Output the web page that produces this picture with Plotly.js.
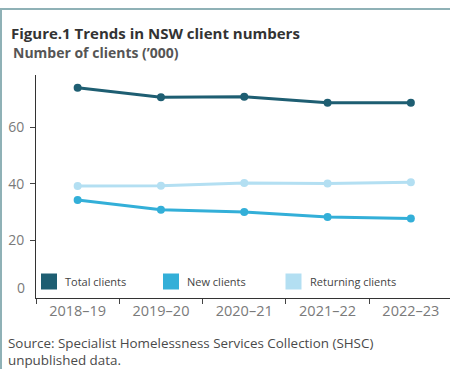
<!DOCTYPE html>
<html>
<head>
<meta charset="utf-8">
<script src="https://cdn.plot.ly/plotly-3.0.1.min.js"></script>
<style>
  html, body { margin: 0; padding: 0; background: #ffffff; }
  #wrap { position: relative; width: 450px; height: 369px; overflow: hidden; }
  #frame { position: absolute; left: 0; top: 8px; width: 448px; height: 361px;
           border-top: 2px solid #8fb1b6; border-left: 2px solid #8fb1b6; }
  #chart { position: absolute; left: 0; top: 0; width: 450px; height: 369px; }
</style>
</head>
<body>
<div id="wrap">
  <div id="frame"></div>
  <div id="chart"></div>
</div>
<script>
// ---- data ----
const years = ['2018–19', '2019–20', '2020–21', '2021–22', '2022–23'];
const totalClients = [74.1, 70.7, 70.9, 68.8, 68.8];
const newClients = [34.3, 30.9, 30.1, 28.3, 27.8];
const returningClients = [39.3, 39.4, 40.3, 40.2, 40.6];
const seriesNames = ['Total clients', 'New clients', 'Returning clients'];
const seriesColors = ['#1e5e72', '#33afd8', '#b3dff2'];
const yTicks = [20, 40, 60];

const titleText = 'Figure.1 Trends in NSW client numbers';
const subtitleText = 'Number of clients (’000)';
const sourceLines = ['Source: Specialist Homelessness Services Collection (SHSC)', 'unpublished data.'];

const FONT = 'Open Sans, Noto Sans, sans-serif';

const seriesValues = [totalClients, newClients, returningClients];
const traces = seriesValues.map((vals, i) => ({
  type: 'scatter',
  mode: 'lines+markers',
  x: years,
  y: vals,
  name: seriesNames[i],
  line: { color: seriesColors[i], width: 3 },
  marker: { color: seriesColors[i], size: 8 },
  showlegend: false,
  hoverinfo: 'x+y+name'
}));

// plot area geometry (px)
const W = 450, H = 369, ML = 36, MR = 0, MT = 75, MB = 71;
const PW = W - ML - MR, PH = H - MT - MB;
const px2x = p => (p - ML) / PW;
const py2y = p => (H - MB - p) / PH;

// legend (squares + labels)
const legendX = [41, 163, 285.5];
const legendTop = 273.5, legendSize = 16;
const shapes = [];
const annotations = [];
seriesNames.forEach((n, i) => {
  shapes.push({
    type: 'rect', xref: 'paper', yref: 'paper',
    x0: px2x(legendX[i]), x1: px2x(legendX[i] + legendSize),
    y0: py2y(legendTop + legendSize), y1: py2y(legendTop),
    fillcolor: seriesColors[i], line: { width: 0 }
  });
  annotations.push({
    xref: 'paper', yref: 'paper',
    x: px2x(legendX[i] + legendSize + 6), y: py2y(legendTop + legendSize / 2),
    xanchor: 'left', yanchor: 'middle', showarrow: false,
    text: n, font: { family: FONT, size: 11, color: '#444444' }
  });
});

// subtitle
annotations.push({
  xref: 'paper', yref: 'paper', x: px2x(11), y: py2y(52.5), xanchor: 'left', yanchor: 'middle',
  showarrow: false, text: '<b>' + subtitleText + '</b>',
  font: { family: FONT, size: 14, color: '#555555' }
});
// "0" label (raised as in the reference)
annotations.push({
  xref: 'paper', yref: 'y', x: 0, y: 0, xanchor: 'right', yanchor: 'middle',
  xshift: -9, yshift: 9, showarrow: false, text: '0',
  font: { family: FONT, size: 14, color: '#7a7a7a' }
});
// source note
annotations.push({
  xref: 'paper', yref: 'paper', x: px2x(6), y: py2y(331.5), xanchor: 'left', yanchor: 'top',
  align: 'left', showarrow: false, text: sourceLines.join('<br>'),
  font: { family: FONT, size: 13.4, color: '#4a4a4a' }
});

const layout = {
  width: W, height: H,
  margin: { l: ML, r: MR, t: MT, b: MB, pad: 0 },
  paper_bgcolor: 'rgba(0,0,0,0)',
  plot_bgcolor: 'rgba(0,0,0,0)',
  title: {
    text: '<b>' + titleText + '</b>',
    xref: 'container', yref: 'container',
    x: 11 / W, xanchor: 'left',
    y: 1 - 39 / H, yanchor: 'bottom',
    pad: { t: 0, b: 0, l: 0, r: 0 },
    font: { family: FONT, size: 15, color: '#333333' }
  },
  xaxis: {
    type: 'category',
    range: [-0.5, 4.47],
    showgrid: false, zeroline: false,
    showline: true, linecolor: '#333333', linewidth: 1,
    ticks: 'outside', tickson: 'boundaries', ticklen: 5, tickcolor: '#444444', tickwidth: 1,
    tickfont: { family: FONT, size: 14.5, color: '#7a7a7a' },
    fixedrange: true
  },
  yaxis: {
    range: [-0.4, 78.6],
    tickvals: yTicks,
    showgrid: false, zeroline: false,
    showline: true, linecolor: '#333333', linewidth: 1,
    ticks: 'outside', ticklen: 5, tickcolor: '#444444', tickwidth: 1,
    ticklabelstandoff: 3,
    tickfont: { family: FONT, size: 14, color: '#7a7a7a' },
    fixedrange: true
  },
  shapes: shapes,
  annotations: annotations,
  showlegend: false
};

Plotly.newPlot('chart', traces, layout, { displayModeBar: false, staticPlot: true });
</script>
</body>
</html>
